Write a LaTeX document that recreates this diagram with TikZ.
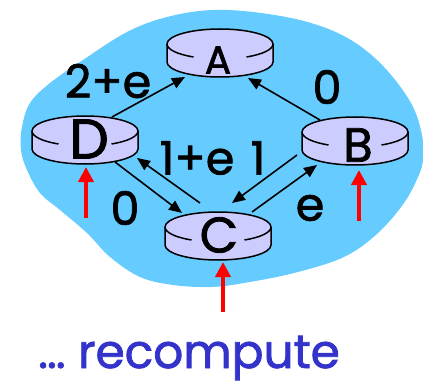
\documentclass[tikz,border=0pt]{standalone}
\usepackage{fontspec}
\setmainfont{Poppins}[FakeBold=1.6,AutoFakeBold=1.6]
\usetikzlibrary{arrows.meta,calc}
\definecolor{blob}{HTML}{66CCFF}
\definecolor{rtrfill}{HTML}{CCCCFF}
\definecolor{txtblue}{HTML}{3333CC}
\definecolor{redarr}{HTML}{FF0000}
\tikzset{
  rtrline/.style={line width=1.5pt, draw=black},
  blk/.style={line width=1.6pt, -{Triangle[length=13pt,width=11pt]}},
  redup/.style={line width=4pt, draw=redarr, -{Triangle[length=15pt,width=15pt]}},
  lbl/.style={inner sep=0pt, font=\fontsize{46}{50}\selectfont\bfseries},
}
\newcommand{\drawrouter}[1]{%
  \draw[rtrline, fill=rtrfill] (#1) ++(-53,0) -- ++(0,18) arc[start angle=180,end angle=0,x radius=53,y radius=15] -- ++(0,-18) arc[start angle=0,end angle=-180,x radius=53,y radius=15] -- cycle;
  \draw[rtrline] (#1) ++(-53,0) arc[start angle=180,end angle=120,x radius=53,y radius=15];
  \draw[rtrline] (#1) ++(60:53 and 15) arc[start angle=60,end angle=0,x radius=53,y radius=15];
}
\begin{document}
\begin{tikzpicture}[x=1pt,y=-1pt]
\useasboundingbox (0,0) rectangle (423,385);
\fill[blob] plot[smooth cycle, tension=0.6] coordinates {
 (212,10) (261,13) (311,23) (351,40) (384,67) (411,103) (422,135) (423,160)
 (418,177) (404,203) (378,233) (344,257) (294,273) (244,283) (211,287)
 (173,285) (140,277) (110,257) (87,233) (60,210) (40,193) (27,170) (21,150)
 (22,127) (30,103) (50,83) (83,60) (127,32) (167,17)};
\coordinate (A) at (220,44);
\coordinate (D) at (85,131);
\coordinate (B) at (355,132);
\coordinate (C) at (218,227);
% connectors
\draw[blk] ($(D)+(27,-14)$) -- ($(A)+(-35,33)$);
\draw[blk] ($(B)+(-35,-12)$) -- ($(A)+(28,34)$);
\draw[blk] ($(D)+(30,31)$) -- ($(C)+(-36,-14)$);
\draw[blk] ($(C)+(-18,-24)$) -- ($(D)+(52,27)$);
\draw[blk] ($(B)+(-58,23)$) -- ($(C)+(14,-24)$);
\draw[blk] ($(C)+(34,-15)$) -- ($(B)+(-38,33)$);
% routers
\drawrouter{A}
\drawrouter{D}
\drawrouter{B}
\drawrouter{C}
\node[inner sep=0pt, font=\fontsize{39}{40}\selectfont\bfseries] (lA) at ($(A)+(-2,16)$) {A};
\node[inner sep=0pt, font=\fontsize{56}{60}\selectfont\bfseries] (lD) at ($(D)+(4,8)$) {D};
\node[inner sep=0pt, font=\fontsize{48}{50}\selectfont\bfseries] (lB) at ($(B)+(3,13)$) {B};
\node[inner sep=0pt, font=\fontsize{50}{50}\selectfont\bfseries] (lC) at ($(C)+(1,8)$) {C};
% red arrows
\draw[redup] ($(D)+(1,87)$) -- ($(D)+(1,36)$);
\draw[redup] ($(B)+(4,89)$) -- ($(B)+(4,38)$);
\draw[redup] ($(C)+(5,85)$) -- ($(C)+(5,35)$);
% labels
\node[lbl] (l1) at (108,81) {2+e};
\node[lbl] (l2) at (327,87) {0};
\node[lbl] (l3) at (197,158) {1+e};
\node[lbl] (l4) at (258,158) {1};
\node[lbl] (l5) at (125,208) {0};
\node[lbl] (l6) at (310,208) {e};
\node[inner sep=0pt, anchor=base, text=txtblue, font=\fontsize{47}{48}\selectfont\bfseries] (rc) at (189,368) {\dots{} recompute};
\end{tikzpicture}
\end{document}
